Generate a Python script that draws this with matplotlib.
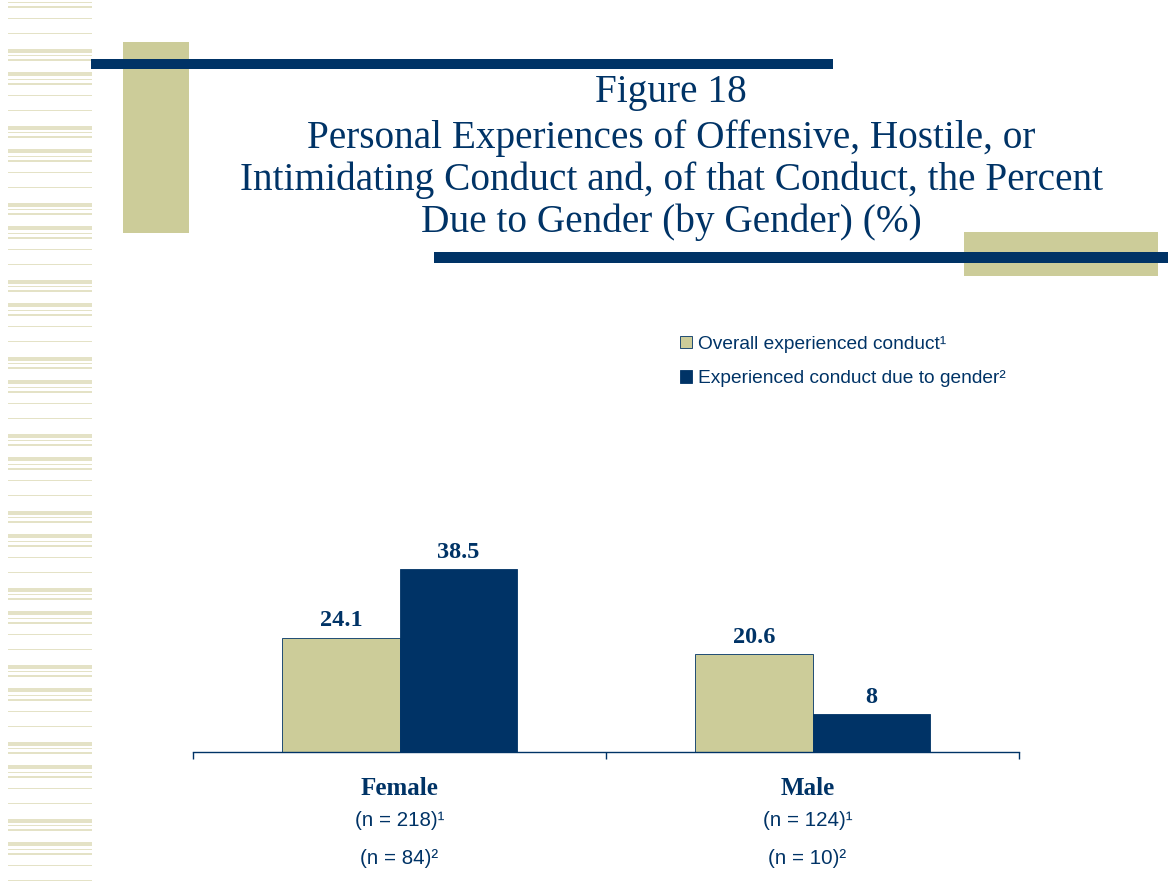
import matplotlib.pyplot as plt
from matplotlib.patches import Rectangle
import numpy as np

# chart data
groups = ['Female', 'Male']
overall = [24.1, 20.6]
due_to_gender = [38.5, 8]
n_overall = [218, 124]
n_gender = [84, 10]
series_labels = ['Overall experienced conduct\u00b9', 'Experienced conduct due to gender\u00b2']

title_lines = ['Figure 18',
               'Personal Experiences of Offensive, Hostile, or',
               'Intimidating Conduct and, of that Conduct, the Percent',
               'Due to Gender (by Gender) (%)']
title_baselines = [102, 148, 190, 232]

NAVY = '#003366'
KHAKI = '#cccc99'
STRIPE = '#e4e2c6'

W, H = 1168, 892
PX_PER_UNIT = 4.75
fig = plt.figure(figsize=(W / 100, H / 100), dpi=100)


def px_rect(x0, y0, x1, y1, color, z=0):
    # rectangle given in pixel coords measured from the top-left corner
    fig.add_artist(Rectangle((x0 / W, 1 - y1 / H), (x1 - x0) / W, (y1 - y0) / H,
                             transform=fig.transFigure, color=color, lw=0, zorder=z))


# striped band down the left edge
period = 77
pattern = [(0, 4), (6, 1), (10, 2), (23, 4), (30, 1), (34, 2), (46, 1), (61, 1)]
for start in range(-28, H, period):
    for off, h in pattern:
        y = start + off
        if 0 <= y < H - 2:
            px_rect(8, y, 92, y + h, STRIPE)

# title decoration blocks
px_rect(123, 42, 189, 233, KHAKI, 1)
px_rect(91, 59, 833, 69, NAVY, 2)
px_rect(964, 232, 1158, 276, KHAKI, 1)
px_rect(434, 252, 1168, 263, NAVY, 2)

for line, yb in zip(title_lines, title_baselines):
    fig.text(671 / W, 1 - yb / H, line, ha='center', va='baseline',
             family='Liberation Serif', fontsize=28.3, color=NAVY, zorder=3)

# axes: baseline at y=752 px
ax = fig.add_axes([193 / W, 1 - 752 / H, (1019 - 193) / W, 70 * PX_PER_UNIT / H])
ax.set_xlim(-0.5, 1.5)
ax.set_ylim(0, 70)
x = np.arange(len(groups))
bw = 0.284
b1 = ax.bar(x - bw / 2, overall, bw, color=KHAKI, edgecolor=NAVY, linewidth=0.6,
            label=series_labels[0])
b2 = ax.bar(x + bw / 2, due_to_gender, bw, color=NAVY, edgecolor=NAVY, linewidth=0.6,
            label=series_labels[1])
for bars in (b1, b2):
    for rect in bars:
        v = rect.get_height()
        ax.annotate(f'{v:g}', (rect.get_x() + rect.get_width() / 2, v),
                    xytext=(0, 8), textcoords='offset points', ha='center', va='baseline',
                    family='Liberation Serif', fontweight='bold', fontsize=17.5, color=NAVY)

for s in ('left', 'top', 'right'):
    ax.spines[s].set_visible(False)
ax.spines['bottom'].set_color(NAVY)
ax.spines['bottom'].set_linewidth(1)
ax.set_yticks([])
ax.set_xticks([-0.5, 0.5, 1.5])
ax.set_xticklabels([])
ax.tick_params(axis='x', length=5, width=1, color=NAVY)

for xi, g, n1, n2 in zip(x, groups, n_overall, n_gender):
    xl = xi - 0.012 * xi
    ax.text(xl, -43 / PX_PER_UNIT, g, ha='center', va='baseline', family='Liberation Serif',
            fontweight='bold', fontsize=18, color=NAVY)
    ax.text(xl, -69 / PX_PER_UNIT, f'(n = {n1})\u00b9', ha='center', va='center',
            family='Liberation Sans', fontsize=14.8, color=NAVY)
    ax.text(xl, -106.5 / PX_PER_UNIT, f'(n = {n2})\u00b2', ha='center', va='center',
            family='Liberation Sans', fontsize=14.8, color=NAVY)

leg = fig.legend(handles=[b1, b2], loc='upper left', bbox_to_anchor=(680 / W, 1 - 336 / H),
                 frameon=False, prop={'family': 'Liberation Sans', 'size': 13.8},
                 handlelength=0.6, handleheight=0.6, handletextpad=0.35, labelspacing=0.9,
                 borderaxespad=0, borderpad=0)
for t in leg.get_texts():
    t.set_color(NAVY)

fig.savefig('out.png', dpi=100)
